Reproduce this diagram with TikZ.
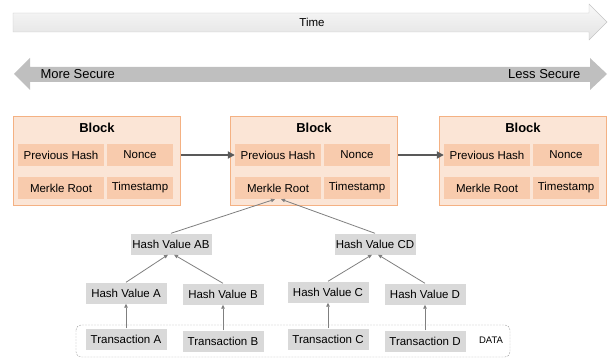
\documentclass[tikz,border=0pt]{standalone}
\usepackage{fontspec}
\setmainfont{Liberation Sans}
\usepackage{tikz}
\usetikzlibrary{calc,arrows.meta}
\definecolor{blockfill}{HTML}{FBE5D6}
\definecolor{blockline}{HTML}{F4B183}
\definecolor{cellfill}{HTML}{F8CBAD}
\definecolor{hashfill}{HTML}{D9D9D9}
\definecolor{linkgray}{HTML}{595959}
\definecolor{treegray}{HTML}{7F7F7F}

\begin{document}
\begin{tikzpicture}[x=1pt,y=-1pt,font=\fontsize{11.5}{13}\selectfont]
\tikzstyle{block}=[draw=blockline,fill=blockfill,line width=1pt,minimum width=167pt,minimum height=89pt,anchor=north west]
\tikzstyle{title}=[font=\fontsize{13}{15}\selectfont\bfseries]
\tikzstyle{lcell}=[fill=cellfill,minimum width=86pt,minimum height=22pt,inner sep=1pt]
\tikzstyle{rcell}=[fill=cellfill,minimum width=66pt,minimum height=22pt,inner sep=1pt]
\tikzstyle{hash}=[fill=hashfill,minimum width=81pt,minimum height=21pt,inner sep=1pt]
\tikzstyle{link}=[draw=linkgray,line width=1.8pt,-{Triangle[length=7pt,width=7pt]}]
\tikzstyle{tree}=[draw=treegray,line width=0.8pt,-{Triangle[length=4pt,width=3.5pt]}]
\tikzstyle{secure}=[font=\fontsize{13}{15}\selectfont]

\useasboundingbox (0,0) rectangle (611,361);

% time and security arrows
\draw [draw=gray!45,top color=gray!5,bottom color=gray!22]
   (13,13) -- (589,13) -- (589,4) -- (607,22) -- (589,40) -- (589,32) -- (13,32) -- cycle;
\node (time) at (312,22) {Time};

\fill [gray!50] (14,74) -- (30,58) -- (30,67) -- (590,67) -- (590,58) -- (607,74)
   -- (590,90) -- (590,82) -- (30,82) -- (30,90) -- cycle;
\node (more) at (37,74) [secure,anchor=west] {More Secure};
\node (less) at (584,74) [secure,anchor=east] {Less Secure};

% blocks
\node (B1) at (13,116) [block] {};
\node (T1) at ($(B1.north)+(0,12)$) [title] {Block};
\node (P1) at ($(B1.north west)+(48,39)$) [lcell] {Previous Hash};
\node (N1) at ($(B1.north west)+(127,39)$) [rcell] {Nonce};
\node (M1) at ($(B1.north west)+(48,72)$) [lcell] {Merkle Root};
\node (S1) at ($(B1.north west)+(127,72)$) [rcell] {Timestamp};

\node (B2) at (230,116) [block] {};
\node (T2) at ($(B2.north)+(0,12)$) [title] {Block};
\node (P2) at ($(B2.north west)+(48,39)$) [lcell] {Previous Hash};
\node (N2) at ($(B2.north west)+(127,39)$) [rcell] {Nonce};
\node (M2) at ($(B2.north west)+(48,72)$) [lcell] {Merkle Root};
\node (S2) at ($(B2.north west)+(127,72)$) [rcell] {Timestamp};

\node (B3) at (439,116) [block] {};
\node (T3) at ($(B3.north)+(0,12)$) [title] {Block};
\node (P3) at ($(B3.north west)+(48,39)$) [lcell] {Previous Hash};
\node (N3) at ($(B3.north west)+(127,39)$) [rcell] {Nonce};
\node (M3) at ($(B3.north west)+(48,72)$) [lcell] {Merkle Root};
\node (S3) at ($(B3.north west)+(127,72)$) [rcell] {Timestamp};

\draw [link] (B1.east |- P2.west) -- (P2.west);
\draw [link] (B2.east |- P3.west) -- (P3.west);

% merkle tree
\node (HAB) at (171,244) [hash] {Hash Value AB};
\node (HCD) at (375,244) [hash] {Hash Value CD};
\node (HA) at (126,293) [hash] {Hash Value A};
\node (HB) at (223,294) [hash] {Hash Value B};
\node (HC) at (328,292) [hash] {Hash Value C};
\node (HD) at (425,294) [hash] {Hash Value D};
\node (TA) at (126,339) [hash] {Transaction A};
\node (TB) at (223,341) [hash] {Transaction B};
\node (TC) at (328,339) [hash] {Transaction C};
\node (TD) at (425,341) [hash] {Transaction D};

\draw [tree] (HAB.north) -- ($(M2.south)+(-3,0)$);
\draw [tree] (HCD.north) -- ($(M2.south)+(3,0)$);
\draw [tree] (HA.north) -- ($(HAB.south)+(-3,0)$);
\draw [tree] (HB.north) -- ($(HAB.south)+(3,0)$);
\draw [tree] (HC.north) -- ($(HCD.south)+(-3,0)$);
\draw [tree] (HD.north) -- ($(HCD.south)+(3,0)$);
\draw [tree] (TA) -- (HA);
\draw [tree] (TB) -- (HB);
\draw [tree] (TC) -- (HC);
\draw [tree] (TD) -- (HD);

% data
\draw [draw=gray!70,dash pattern=on 2pt off 1pt,rounded corners=5pt] (76,325) rectangle (510,357);
\node (data) at (491,340) [font=\fontsize{9.5}{11}\selectfont] {DATA};

\end{tikzpicture}
\end{document}
